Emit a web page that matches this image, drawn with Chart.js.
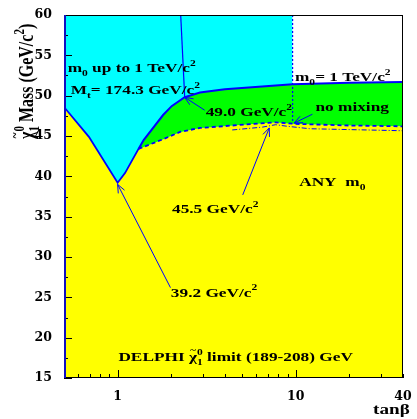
<!DOCTYPE html>
<html lang="en">
<head>
<meta charset="UTF-8">
<title>DELPHI neutralino mass limit vs tan beta</title>
<script src="https://cdn.jsdelivr.net/npm/chart.js"></script>
<style>
  body { margin: 0; background: #fff; }
</style>
</head>
<body>
<canvas id="limitChart" width="417" height="419"></canvas>
<script>
// boundaries: tan(beta) and the neutralino mass limit (GeV/c2)
const lowerTanb = [0.5, 0.69, 1.0, 1.1, 1.31, 1.8, 2.24, 2.9, 4.4, 7.7, 10, 20, 40];
const lowerMass = [48.6, 44.9, 39.2, 40.4, 43.4, 44.6, 45.5, 46.0, 46.3, 46.7, 46.5, 46.3, 46.2];
const upperTanb = [1.31, 1.4, 1.8, 2.01, 2.38, 2.9, 4.0, 9.6, 20, 40];
const upperMass = [43.4, 44.5, 47.6, 48.7, 49.8, 50.4, 50.8, 51.4, 51.6, 51.7];
const anyM0Tanb = [4.4, 6.5, 7.7, 9.0, 12, 40];
const anyM0Mass = [45.75, 46.1, 46.4, 46.2, 45.9, 45.65];
const cyanTanb = [0.5, 9.6];
const cyanMass = [60, 60];
const m0LineTanb = [2.26, 2.38];
const m0LineMass = [60, 49.8];
const dotTanb = [9.6, 9.6];
const dotMass = [60, 46.6];

// tick positions
const xTicks = [0.5, 0.6, 0.7, 0.8, 0.9, 1, 2, 3, 4, 5, 6, 7, 8, 9, 10, 20, 30, 40];
const xLabels = [1, 10, 40];
const yTicks = [15, 17.5, 20, 22.5, 25, 27.5, 30, 32.5, 35, 37.5, 40, 42.5, 45, 47.5, 50, 52.5, 55, 57.5, 60];

// arrows: from label to the point on the curve
const arrowFrom = [[1.98, 26.2], [5.04, 37.7], [3.08, 48.2], [12.4, 47.7]];
const arrowTo = [[1.0, 39.0], [7.1, 46.0], [2.38, 49.8], [9.79, 46.6]];

// text notes (ROOT-like markup: _{} sub, ^{} sup, ~{} tilde), anchored in data coords
const notes = [
  { text: 'm_{0} up to 1 TeV/c^{2}', x: 0.524, y: 52.9 },
  { text: 'M_{t}= 174.3 GeV/c^{2}', x: 0.545, y: 50.2 },
  { text: '49.0 GeV/c^{2}', x: 3.12, y: 47.5 },
  { text: 'm_{0}= 1 TeV/c^{2}', x: 9.9, y: 51.8 },
  { text: 'no mixing', x: 12.9, y: 48.1 },
  { text: 'ANY  m_{0}', x: 10.45, y: 38.8 },
  { text: '45.5 GeV/c^{2}', x: 2.02, y: 35.5 },
  { text: '39.2 GeV/c^{2}', x: 1.99, y: 25.1 },
  { text: 'DELPHI ~{\u03C7}_{1}^{0} limit (189-208) GeV', x: 1.01, y: 17.1 }
];

const SERIF = '"Liberation Serif", "Times New Roman", serif';
const STRETCH = 1.28;

function toPoints(xs, ys) {
  return xs.map((v, i) => ({ x: v, y: ys[i] }));
}

function parseRich(str) {
  const out = [];
  const re = /([_^~])\{([^}]*)\}|([^_^~]+)/g;
  let m;
  while ((m = re.exec(str)) !== null) {
    if (m[1]) out.push({ kind: m[1] === '_' ? 'sub' : (m[1] === '^' ? 'sup' : 'tilde'), text: m[2] });
    else out.push({ kind: 'norm', text: m[3] });
  }
  return out;
}

// draws text with sub/superscripts, stretched like the original figure
function drawRich(ctx, str, size, sx, sy) {
  ctx.save();
  ctx.scale(sx, sy);
  const big = 'bold ' + size + 'px ' + SERIF;
  const small = 'bold ' + Math.round(size * 0.7) + 'px ' + SERIF;
  const toks = parseRich(str);
  let cx = 0;
  for (let i = 0; i < toks.length; i++) {
    const t = toks[i];
    if (t.kind === 'norm') {
      ctx.font = big;
      ctx.fillText(t.text, cx, 0);
      cx += ctx.measureText(t.text).width;
    } else if (t.kind === 'tilde') {
      ctx.font = big;
      const w = ctx.measureText(t.text).width;
      ctx.fillText(t.text, cx, 0);
      ctx.font = small;
      const tw = ctx.measureText('~').width;
      ctx.fillText('~', cx + (w - tw) / 2, -size * 0.62);
      cx += w;
    } else {
      ctx.font = small;
      const next = toks[i + 1];
      if (t.kind === 'sub' && next && next.kind === 'sup') {
        ctx.fillText(t.text, cx, size * 0.3);
        ctx.fillText(next.text, cx, -size * 0.45);
        cx += Math.max(ctx.measureText(t.text).width, ctx.measureText(next.text).width);
        i++;
      } else {
        const dy = t.kind === 'sub' ? size * 0.3 : -size * 0.45;
        ctx.fillText(t.text, cx, dy);
        cx += ctx.measureText(t.text).width;
      }
    }
  }
  ctx.restore();
}

const frameAndNotes = {
  id: 'frameAndNotes',
  afterDatasetsDraw(chart) {
    const { ctx, chartArea: a, scales: { x, y } } = chart;
    ctx.save();

    // inward ticks
    ctx.strokeStyle = '#000';
    ctx.lineWidth = 1;
    ctx.beginPath();
    yTicks.forEach(v => {
      const py = Math.round(y.getPixelForValue(v)) + 0.5;
      const len = v % 5 === 0 ? 8 : 4;
      ctx.moveTo(a.left, py);
      ctx.lineTo(a.left + len, py);
    });
    xTicks.forEach(v => {
      const px = Math.round(x.getPixelForValue(v)) + 0.5;
      const len = (v === 1 || v === 10) ? 8 : 4;
      ctx.moveTo(px, a.bottom);
      ctx.lineTo(px, a.bottom - len);
    });
    ctx.stroke();

    // frame
    ctx.strokeRect(a.left + 0.5, a.top + 0.5, a.right - a.left - 1, a.bottom - a.top - 1);
    ctx.strokeStyle = '#1010c0';
    ctx.lineWidth = 2;
    ctx.beginPath();
    ctx.moveTo(a.left + 1, a.top);
    ctx.lineTo(a.left + 1, a.bottom);
    ctx.stroke();

    // arrows
    ctx.strokeStyle = '#0000ff';
    ctx.lineWidth = 1;
    arrowFrom.forEach((f, i) => {
      const x0 = x.getPixelForValue(f[0]), y0 = y.getPixelForValue(f[1]);
      const x1 = x.getPixelForValue(arrowTo[i][0]), y1 = y.getPixelForValue(arrowTo[i][1]);
      const ang = Math.atan2(y1 - y0, x1 - x0);
      ctx.beginPath();
      ctx.moveTo(x0, y0);
      ctx.lineTo(x1, y1);
      ctx.moveTo(x1 - 9 * Math.cos(ang - 0.4), y1 - 9 * Math.sin(ang - 0.4));
      ctx.lineTo(x1, y1);
      ctx.lineTo(x1 - 9 * Math.cos(ang + 0.4), y1 - 9 * Math.sin(ang + 0.4));
      ctx.stroke();
    });

    // notes
    ctx.fillStyle = '#000';
    ctx.textBaseline = 'alphabetic';
    ctx.textAlign = 'left';
    notes.forEach(n => {
      ctx.save();
      ctx.translate(x.getPixelForValue(n.x), y.getPixelForValue(n.y));
      drawRich(ctx, n.text, 13.5, STRETCH, 1);
      ctx.restore();
    });

    // axis titles
    ctx.save();
    ctx.translate(a.right - 30, a.bottom + 36);
    drawRich(ctx, 'tan\u03B2', 15, STRETCH, 1);
    ctx.restore();

    ctx.save();
    ctx.translate(33, a.top + 124);
    ctx.rotate(-Math.PI / 2);
    drawRich(ctx, '~{\u03C7}_{1}^{0} Mass (GeV/c^{2})', 16, 1, STRETCH);
    ctx.restore();

    ctx.restore();
  }
};

const tickFont = { family: '"DejaVu Serif", serif', weight: 'bold', size: 12.5 };

new Chart(document.getElementById('limitChart'), {
  type: 'scatter',
  data: {
    datasets: [
      {
        label: 'm0 up to 1 TeV',
        data: toPoints(cyanTanb, cyanMass),
        showLine: true, borderWidth: 0, borderColor: 'rgba(0,0,0,0)',
        backgroundColor: '#00ffff', fill: 'start', order: 6
      },
      {
        label: 'any m0 region',
        data: toPoints(lowerTanb, lowerMass),
        showLine: true, borderWidth: 0, borderColor: 'rgba(0,0,0,0)',
        backgroundColor: '#ffff00', fill: 'start', order: 5
      },
      {
        label: 'm0 = 1 TeV region',
        data: toPoints(upperTanb, upperMass),
        showLine: true, borderColor: '#0000ff', borderWidth: 2,
        backgroundColor: '#00ff00', fill: '-1', order: 3
      },
      {
        label: 'any m0 boundary',
        data: toPoints(lowerTanb, lowerMass),
        showLine: true, borderColor: '#0000ff', borderWidth: 1.8, fill: false, order: 2,
        segment: { borderDash: c => c.p0.parsed.x >= 1.3 ? [4, 3] : undefined }
      },
      {
        label: 'any m0, no mixing',
        data: toPoints(anyM0Tanb, anyM0Mass),
        showLine: true, borderColor: '#0000ff', borderWidth: 1,
        borderDash: [5, 2, 1, 2], fill: false, order: 2
      },
      {
        label: 'm0 up to 1 TeV edge',
        data: toPoints(m0LineTanb, m0LineMass),
        showLine: true, borderColor: '#0000ff', borderWidth: 1.2, fill: false, order: 1
      },
      {
        label: 'm0 = 1 TeV edge',
        data: toPoints(dotTanb, dotMass),
        showLine: true, borderColor: '#0000ff', borderWidth: 1.2,
        borderDash: [2, 2], fill: false, order: 1
      }
    ]
  },
  options: {
    responsive: false,
    animation: false,
    layout: { padding: { left: 0, right: 14, top: 15, bottom: 0 } },
    elements: { point: { radius: 0 }, line: { tension: 0 } },
    plugins: {
      legend: { display: false },
      tooltip: { enabled: false },
      filler: { drawTime: 'beforeDatasetsDraw' }
    },
    scales: {
      x: {
        type: 'logarithmic',
        min: 0.5,
        max: 40,
        afterBuildTicks: s => { s.ticks = xTicks.map(v => ({ value: v })); },
        afterFit: s => { s.height = 41; },
        grid: { display: false },
        border: { display: false },
        ticks: {
          autoSkip: false, maxRotation: 0, padding: 3,
          color: '#000', font: tickFont,
          callback: v => xLabels.includes(v) ? String(v) : ''
        }
      },
      y: {
        min: 15,
        max: 60,
        afterBuildTicks: s => { s.ticks = yTicks.map(v => ({ value: v })); },
        afterFit: s => { s.width = 64; },
        grid: { display: false },
        border: { display: false },
        ticks: {
          autoSkip: false, padding: 4,
          color: '#000', font: tickFont,
          callback: v => v % 5 === 0 ? String(v) : ''
        }
      }
    }
  },
  plugins: [frameAndNotes]
});
</script>
</body>
</html>
